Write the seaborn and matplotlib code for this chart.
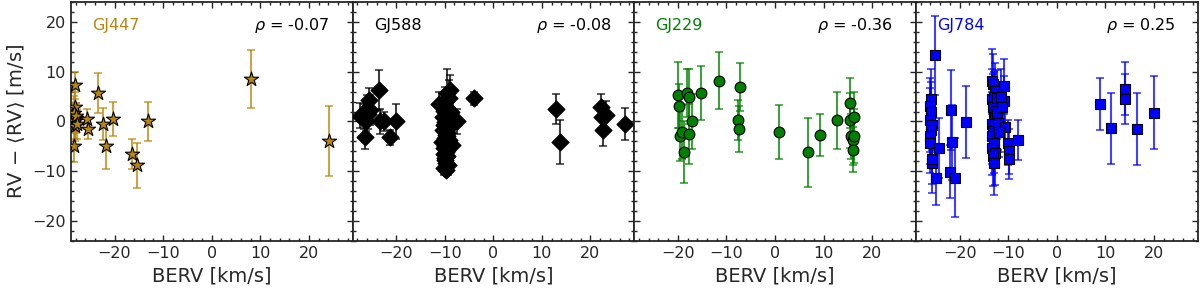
import matplotlib
matplotlib.use("Agg")
import matplotlib.pyplot as plt
from matplotlib.ticker import MultipleLocator
import numpy as np
import pandas as pd
import seaborn as sns

# GJ447 (stars)
berv_447 = [-28.2, -28.1, -28.3, -28.0, -28.2, -28.1, -28.3, -27.9, -27.8,
            -23.5, -25.7, -25.5, -22.3, -21.7, -20.4, -16.3, -15.3, -13.1, 8.0, 24.1]
rv_447 = [7.3, 3.0, 1.7, 0.7, 0.0, -1.0, -5.0, 1.2, -0.5,
          5.7, 0.5, -1.5, -0.5, -4.9, 0.5, -6.5, -8.8, 0.0, 8.5, -3.9]
err_447 = [2.7, 3.0, 3.5, 3.0, 3.5, 3.0, 3.2, 2.5, 3.0,
           4.0, 2.0, 2.0, 3.2, 4.6, 3.5, 3.0, 4.5, 4.0, 5.8, 7.0]

# GJ588 (diamonds)
berv_588 = [-27.5, -26.7, -26.4, -25.5, -25.3, -26.2, -26.0, -25.8, -23.6, -23.3, -22.6, -21.2, -20.0,
            -11.2, -9.6, -8.9, -7.5, -8.6, -10.0, -9.8, -10.2, -9.5, -10.4, -9.7, -9.9, -10.1,
            -9.4, -10.3, -9.6, -9.8, -10.0, -9.2, -10.5, -9.7, -9.9, -10.1, -9.5, -9.8, -10.2,
            -9.6, -9.9, -10.0, -9.7, -9.3, -10.1, -9.8, -9.9, -10.0, -9.6, -8.8, -9.1,
            -3.9, 12.9, 13.7, 22.1, 22.3, 23.1, 22.6, 27.2]
rv_588 = [1.2, 1.0, -3.2, 4.3, 2.3, 0.0, 2.5, 1.5, 6.3, 0.0, 0.0, -3.2, 0.0,
          3.5, 5.7, 6.3, 0.0, -4.7, 4.0, 3.0, 2.2, 1.5, 1.0, 0.5, -0.2, -0.8,
          -1.3, -1.8, -2.3, -2.8, -3.3, -3.8, -4.2, -4.6, -5.0, -5.4, -5.8, -6.2, -6.6,
          -7.0, -7.4, -7.8, -8.3, -8.8, -9.3, -9.8, 2.5, -0.5, -3.0, 2.0, 4.8,
          4.7, 2.5, -4.1, 3.0, 1.0, 1.3, -1.7, -0.5]
err_588 = [2.5, 2.5, 2.3, 2.5, 3.0, 2.0, 2.8, 3.0, 4.0, 2.5, 2.0, 1.5, 3.5,
           2.5, 4.8, 3.0, 2.5, 2.5, 3.0, 2.5, 2.0, 2.5, 2.0, 2.5, 3.0, 2.0,
           2.5, 2.0, 2.5, 2.0, 2.5, 2.0, 2.5, 2.0, 2.5, 2.0, 2.5, 2.0, 2.5,
           2.0, 2.5, 2.0, 2.5, 2.0, 1.5, 1.0, 2.5, 2.0, 2.5, 2.0, 3.5,
           1.3, 3.0, 4.4, 2.6, 2.5, 2.8, 3.3, 3.3]

# GJ229 (circles)
berv_229 = [-19.9, -19.8, -19.5, -19.2, -18.7, -18.2, -17.8, -17.8, -17.0, -15.2, -11.6,
            -7.7, -7.5, -7.3, 0.8, 6.8, 9.2, 12.8, 15.5, 15.5, 16.2, 15.7, 16.0, 16.0, 16.2]
rv_229 = [5.3, 3.1, -2.9, -2.1, -6.2, 5.7, 5.0, -2.5, 0.0, 5.7, 8.2,
          0.3, -1.5, 7.0, -2.1, -6.2, -2.7, 0.2, 3.7, 0.2, 1.0, -3.0, -3.8, -5.7, -2.9]
err_229 = [6.7, 4.5, 5.0, 5.5, 6.2, 4.8, 5.5, 6.0, 5.5, 5.4, 5.7,
           4.0, 4.7, 4.8, 5.5, 7.0, 4.3, 5.8, 5.0, 5.5, 5.0, 4.5, 5.0, 4.5, 5.5]

# GJ784 (squares)
berv_784 = [-25.0, -25.8, -26.0, -25.8, -26.0, -25.6, -25.8, -26.0, -26.0, -25.7, -25.6,
            -24.8, -24.3, -21.8, -21.5, -22.0, -20.9, -18.6,
            -13.3, -13.1, -12.8, -13.4, -12.9, -13.2, -12.6, -13.0, -12.7, -13.3, -12.9,
            -13.2, -13.4, -13.0, -13.3, -12.8, -13.1, -13.0, -12.4, -12.2, -10.8, -10.9,
            -11.5, -11.3, -12.0, -10.6, -11.8, -10.1, -9.8, -9.8, -7.9,
            8.9, 11.2, 14.0, 14.0, 16.6, 20.0]
rv_784 = [13.3, 4.5, 3.2, 2.0, 0.3, -0.8, -1.7, -3.0, -4.3, -8.3, -7.5,
          -11.3, -5.3, 2.3, -4.2, -10.1, -11.3, -0.1,
          8.1, 7.5, 6.2, 4.5, 5.0, 3.0, 2.2, 1.0, 0.7, -0.5, -1.0,
          -2.0, -3.0, -4.3, -5.3, -6.3, -7.0, -8.3, 4.8, 1.5, 7.1, 4.2,
          5.0, 3.0, -0.3, -1.1, -2.2, -4.3, -6.0, -7.5, -3.8,
          3.5, -1.4, 6.6, 4.5, -1.5, 1.8]
err_784 = [7.9, 6.0, 5.5, 6.0, 6.5, 5.0, 6.0, 5.5, 6.0, 6.0, 5.0,
           5.5, 6.0, 8.0, 7.5, 5.3, 7.9, 7.3,
           6.5, 6.0, 5.5, 6.0, 5.0, 6.5, 5.5, 6.0, 5.0, 6.5, 5.5,
           6.0, 5.5, 6.0, 5.5, 6.5, 6.0, 6.5, 5.5, 5.0, 5.5, 5.0,
           5.5, 5.0, 5.5, 5.0, 5.0, 4.5, 4.5, 4.0, 4.0,
           5.2, 7.2, 5.3, 5.0, 7.3, 7.3]

stars = ["GJ447", "GJ588", "GJ229", "GJ784"]
rhos = ["-0.07", "-0.08", "-0.36", "0.25"]
colors = ["#b8860b", "black", "green", "blue"]
markers = ["*", "D", "o", "s"]
sizes = [115, 75, 60, 55]
data = [(berv_447, rv_447, err_447), (berv_588, rv_588, err_588),
        (berv_229, rv_229, err_229), (berv_784, rv_784, err_784)]

sns.set_style("ticks", {"xtick.direction": "in", "ytick.direction": "in"})
plt.rcParams["font.family"] = ["DejaVu Sans"]
plt.rcParams["xtick.top"] = True
plt.rcParams["ytick.right"] = True

fig, axes = plt.subplots(1, 4, figsize=(12, 2.91), dpi=100, sharey=True)
fig.subplots_adjust(left=0.059, right=0.998, top=0.993, bottom=0.172, wspace=0)

for ax, name, rho, col, mk, sz, (x, y, e) in zip(axes, stars, rhos, colors, markers, sizes, data):
    df = pd.DataFrame({"BERV": x, "RV": y, "err": e})
    ax.errorbar(df["BERV"], df["RV"], yerr=df["err"], fmt="none", ecolor=col,
                alpha=0.75, capsize=3, elinewidth=1.5, capthick=1.2, zorder=1)
    sns.scatterplot(data=df, x="BERV", y="RV", marker=mk, s=sz, color=col,
                    edgecolor="black", linewidth=0.8, ax=ax, zorder=3, legend=False)
    ax.set_xlim(-29, 29)
    ax.set_ylim(-24, 24)
    ax.xaxis.set_major_locator(MultipleLocator(10))
    ax.xaxis.set_minor_locator(MultipleLocator(2))
    ax.yaxis.set_major_locator(MultipleLocator(10))
    ax.yaxis.set_minor_locator(MultipleLocator(2))
    ax.tick_params(which="both", direction="in", top=True, right=True, labelsize=11.5)
    ax.tick_params(which="major", length=4.5, width=1)
    ax.tick_params(which="minor", length=2.2, width=1)
    for sp in ax.spines.values():
        sp.set_linewidth(1.3)
    ax.set_xlabel("BERV [km/s]", fontsize=14)
    ax.set_ylabel("")
    ax.text(0.075, 0.9, name, color=col, fontsize=11.5, transform=ax.transAxes,
            ha="left", va="center")
    ax.text(0.92, 0.9, r"$\rho$ = " + rho, color="black", fontsize=11.5,
            transform=ax.transAxes, ha="right", va="center")

axes[0].set_ylabel(r"RV $-$ $\langle$RV$\rangle$ [m/s]", fontsize=14)
for ax in axes[1:]:
    ax.tick_params(labelleft=False)

fig.savefig("out.png", dpi=100)
